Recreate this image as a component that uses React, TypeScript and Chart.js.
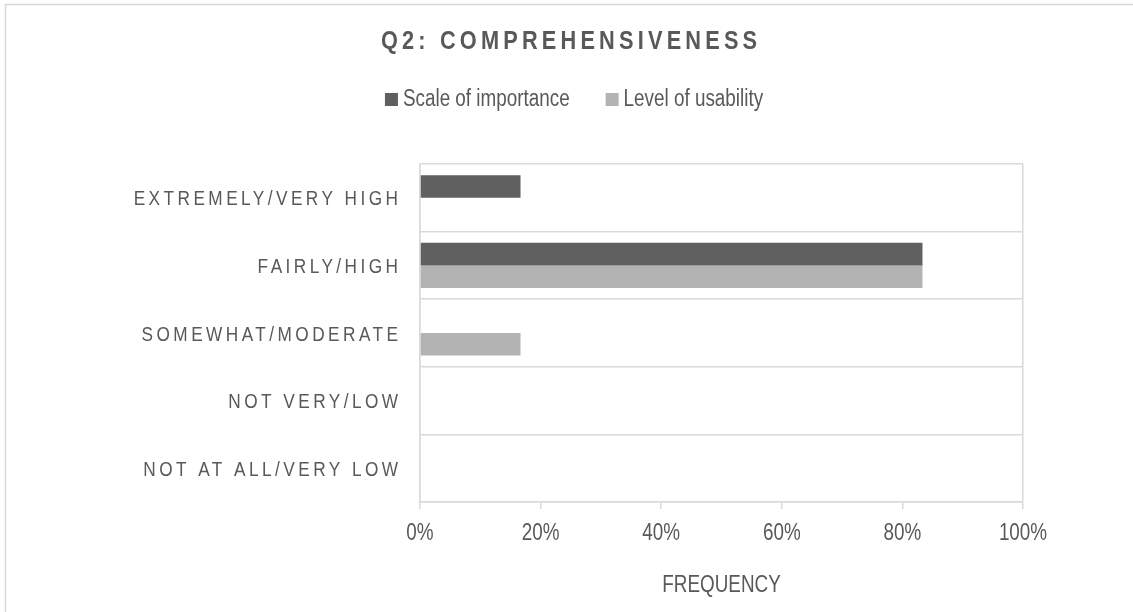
import React, { useEffect, useRef } from 'react';
import { Chart, registerables } from 'chart.js';

Chart.register(...registerables);

// ---- data ----
const titleText = 'Q2: COMPREHENSIVENESS';
const categories = [
  'EXTREMELY/VERY HIGH',
  'FAIRLY/HIGH',
  'SOMEWHAT/MODERATE',
  'NOT VERY/LOW',
  'NOT AT ALL/VERY LOW',
];
const seriesNames = ['Scale of importance', 'Level of usability'];
const importanceValues = [16.67, 83.33, 0, 0, 0];
const usabilityValues = [0, 83.33, 16.67, 0, 0];
const xTickValues = [0, 20, 40, 60, 80, 100];
const xAxisTitle = 'FREQUENCY';

// ---- styles ----
const FONT = '"Liberation Sans", Arial, sans-serif';
const SX = 0.82; // horizontal compression to imitate a narrow face
const TEXT = '#595959';
const GRID = '#d9d9d9';
const DARK = '#606060';
const LIGHT = '#b3b3b3';

function narrowText(
  ctx: any,
  text: string,
  x: number,
  y: number,
  align: 'left' | 'right' | 'center',
  size: number,
  bold = false,
  spacing = 0,
) {
  ctx.save();
  ctx.font = `${bold ? 'bold ' : ''}${size}px ${FONT}`;
  ctx.letterSpacing = `${spacing / SX}px`;
  ctx.textAlign = align;
  ctx.textBaseline = 'alphabetic';
  let ox = x;
  if (align === 'right') ox = x + spacing;
  else if (align === 'center') ox = x + spacing / 2;
  ctx.translate(ox, y);
  ctx.scale(SX, 1);
  ctx.fillText(text, 0, 0);
  ctx.letterSpacing = '0px';
  ctx.restore();
}

function narrowWidth(ctx: any, text: string, size: number, bold = false) {
  ctx.save();
  ctx.font = `${bold ? 'bold ' : ''}${size}px ${FONT}`;
  ctx.letterSpacing = '0px';
  const w = ctx.measureText(text).width * SX;
  ctx.restore();
  return w;
}

const decorPlugin = {
  id: 'decor',
  beforeDraw(chart: any) {
    const ctx = chart.ctx;
    ctx.save();
    ctx.fillStyle = '#ffffff';
    ctx.fillRect(0, 0, chart.width, chart.height);
    ctx.strokeStyle = GRID;
    ctx.lineWidth = 1.5;
    ctx.strokeRect(5.5, 4.5, chart.width + 10, chart.height + 10);
    ctx.restore();
  },
  afterDraw(chart: any) {
    const ctx = chart.ctx;
    ctx.save();
    ctx.fillStyle = TEXT;

    // title
    narrowText(ctx, titleText, 569, 49, 'center', 26.5, true, 4.2);

    // legend
    const box = 13;
    const gapBoxText = 5;
    const gapItems = 36;
    const ds = chart.data.datasets;
    const widths = ds.map((d: any) => narrowWidth(ctx, d.label, 23));
    const total =
      widths.reduce((a: number, w: number) => a + box + gapBoxText + w, 0) + gapItems * (ds.length - 1);
    let lx = 574 - total / 2;
    ds.forEach((d: any, i: number) => {
      ctx.fillStyle = d.backgroundColor;
      ctx.fillRect(lx, 93, box, box);
      ctx.fillStyle = TEXT;
      narrowText(ctx, d.label, lx + box + gapBoxText, 105.5, 'left', 23);
      lx += box + gapBoxText + widths[i] + gapItems;
    });

    // y category labels
    const yScale = chart.scales.y;
    categories.forEach((c, i) => {
      const y = yScale.getPixelForValue(i);
      narrowText(ctx, c, 398, y + 7.5, 'right', 21, false, 3.45);
    });

    // x tick labels
    const xScale = chart.scales.x;
    xTickValues.forEach((v) => {
      narrowText(ctx, `${v}%`, xScale.getPixelForValue(v), 540, 'center', 23);
    });

    // x axis title
    narrowText(ctx, xAxisTitle, (xScale.left + xScale.right) / 2, 592, 'center', 23);

    ctx.restore();
  },
};

export default function App() {
  const ref = useRef<HTMLCanvasElement>(null);
  useEffect(() => {
    if (!ref.current) return;
    const chart = new Chart(ref.current, {
      type: 'bar',
      data: {
        labels: categories,
        datasets: [
          { label: seriesNames[0], data: importanceValues, backgroundColor: DARK, borderWidth: 0 },
          { label: seriesNames[1], data: usabilityValues, backgroundColor: LIGHT, borderWidth: 0 },
        ],
      },
      options: {
        indexAxis: 'y',
        animation: false,
        responsive: false,
        events: [],
        layout: { padding: { left: 0, right: 110, top: 164, bottom: 0 } },
        datasets: { bar: { categoryPercentage: 2 / 3, barPercentage: 1 } },
        plugins: {
          legend: { display: false },
          title: { display: false },
          tooltip: { enabled: false },
        },
        scales: {
          x: {
            type: 'linear',
            min: 0,
            max: 100,
            afterFit: (s: any) => {
              s.height = 110;
            },
            afterBuildTicks: (s: any) => {
              s.ticks = xTickValues.map((v) => ({ value: v }));
            },
            ticks: { display: false },
            grid: {
              color: (c: any) =>
                c.tick && (c.tick.value === 0 || c.tick.value === 100) ? GRID : 'rgba(0,0,0,0)',
              tickColor: GRID,
              tickLength: 7,
              lineWidth: 1.5,
              drawOnChartArea: true,
            },
            border: { display: true, color: GRID, width: 1.5 },
            title: { display: false },
          },
          y: {
            type: 'category',
            afterFit: (s: any) => {
              s.width = 420;
            },
            ticks: { display: false },
            grid: { color: GRID, lineWidth: 1.5, drawTicks: false, offset: true },
            border: { display: true, color: GRID, width: 1.5 },
          },
        },
      },
      plugins: [decorPlugin],
    });
    return () => chart.destroy();
  }, []);
  return (
    <div style={{ position: 'fixed', left: 0, top: 0, width: 1133, height: 612, background: '#fff' }}>
      <canvas ref={ref} width={1133} height={612} style={{ display: 'block', width: 1133, height: 612 }} />
    </div>
  );
}
